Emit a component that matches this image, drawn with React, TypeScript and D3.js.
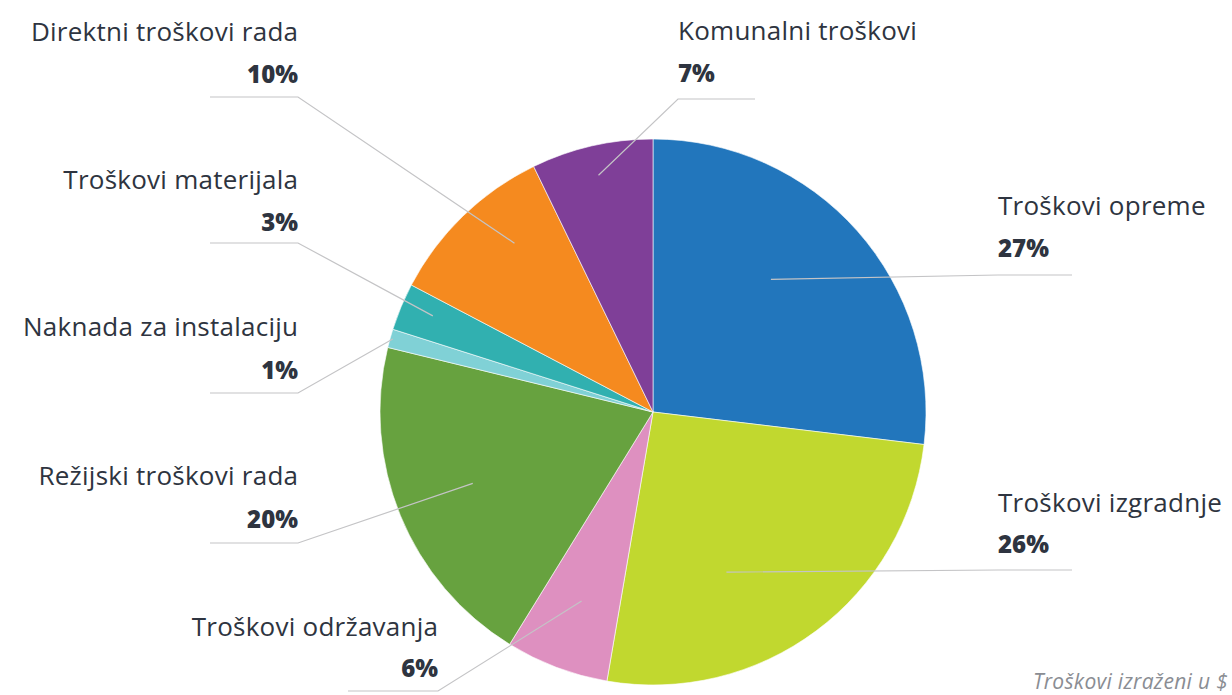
import React from "react";
import * as d3 from "d3";

const categories = [
  "Troškovi opreme",
  "Troškovi izgradnje",
  "Troškovi održavanja",
  "Režijski troškovi rada",
  "Naknada za instalaciju",
  "Troškovi materijala",
  "Direktni troškovi rada",
  "Komunalni troškovi",
];
const values = [26.9, 25.8, 6.1, 20.0, 1.1, 2.8, 10.1, 7.2];
const percentLabels = ["27%", "26%", "6%", "20%", "1%", "3%", "10%", "7%"];
const colors = ["#2276BC", "#C1D82F", "#DE90C0", "#67A23F", "#80D1D6", "#31B0B0", "#F58A1F", "#7F3F98"];

// label layout (positions only)
type Lay = { anchor: "start" | "end"; tx: number; nameY: number; pctY: number; lineY: number; endX: number; r: number; t: number };
const layout: Lay[] = [
  { anchor: "start", tx: 998, nameY: 215, pctY: 257, lineY: 275, endX: 1072, r: 0.65, t: 0.43 },
  { anchor: "start", tx: 998, nameY: 512, pctY: 553, lineY: 570, endX: 1072, r: 0.645, t: 0.63 },
  { anchor: "end", tx: 438, nameY: 636, pctY: 677, lineY: 691, endX: 348, r: 0.74, t: 0.5 },
  { anchor: "end", tx: 298, nameY: 485, pctY: 528, lineY: 543, endX: 210, r: 0.71, t: 0.51 },
  { anchor: "end", tx: 298, nameY: 336, pctY: 379, lineY: 393, endX: 210, r: 0.99, t: 0.5 },
  { anchor: "end", tx: 298, nameY: 189, pctY: 231, lineY: 243, endX: 210, r: 0.88, t: 0.59 },
  { anchor: "end", tx: 298, nameY: 41, pctY: 83, lineY: 97, endX: 210, r: 0.8, t: 0.63 },
  { anchor: "start", tx: 678, nameY: 40, pctY: 82, lineY: 99, endX: 755, r: 0.89, t: 0.5 },
];

const W = 1232;
const H = 695;
const cx = 653;
const cy = 412;
const R = 273;
const FONT = "'Open Sans', Lato, sans-serif";
const TEXT = "#2E3440";

export default function App() {
  const pie = d3.pie<number>().sort(null).value((d) => d);
  const arcs = pie(values);
  const arc = d3.arc<d3.PieArcDatum<number>>().innerRadius(0).outerRadius(R);

  return (
    <svg width={W} height={H} style={{ position: "absolute", left: 0, top: 0, background: "#fff" }}>
      <g transform={`translate(${cx},${cy})`}>
        {arcs.map((a, i) => (
          <path key={i} d={arc(a) || ""} fill={colors[i]} stroke="#ffffff" strokeWidth={0.6} />
        ))}
      </g>
      {arcs.map((a, i) => {
        const L = layout[i];
        const ang = a.startAngle + (a.endAngle - a.startAngle) * L.t;
        const px = cx + Math.sin(ang) * R * L.r;
        const py = cy - Math.cos(ang) * R * L.r;
        const elbowX = L.tx;
        const pts = [
          [px, py],
          [elbowX, L.lineY],
          [L.endX, L.lineY],
        ] as [number, number][];
        const shift = L.anchor === "end" ? 0.25 : 0;
        return (
          <g key={"l" + i}>
            <path d={d3.line()(pts) || ""} fill="none" stroke="#C4C4C6" strokeWidth={1.2} />
            <text x={L.tx + shift} y={L.nameY} textAnchor={L.anchor} fontFamily={FONT} fontSize={26} letterSpacing={0.25} fill={TEXT}>
              {categories[i]}
            </text>
            <text x={L.tx} y={L.pctY} textAnchor={L.anchor} fontFamily={FONT} fontSize={24} fontWeight={800} fill={TEXT}>
              {percentLabels[i]}
            </text>
          </g>
        );
      })}
      <text x={1228} y={689} textAnchor="end" fontFamily={FONT} fontStyle="italic" fontSize={21} letterSpacing={0.3} fill="#8A8D93">
        Troškovi izraženi u $
      </text>
    </svg>
  );
}
